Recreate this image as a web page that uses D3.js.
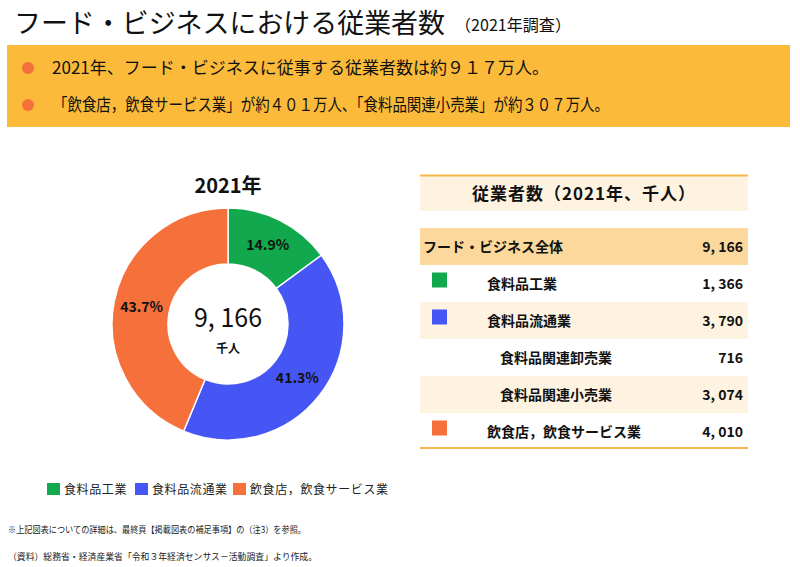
<!DOCTYPE html>
<html><head><meta charset="utf-8">
<script src="https://cdn.jsdelivr.net/npm/d3@7"></script>
<style>
body{margin:0;background:#fff;}
text{font-family:"Noto Sans CJK JP","Noto Sans",sans-serif;}
</style></head>
<body><svg id="c" width="800" height="567"></svg>
<script>
const categories = ["食料品工業","食料品流通業","飲食店，飲食サービス業"];
const values = [1366, 3790, 4010];
const colors = ["#12A94E","#4556F5","#F5703A"];
const tableLabels = ["フード・ビジネス全体","食料品工業","食料品流通業","食料品関連卸売業","食料品関連小売業","飲食店，飲食サービス業"];
const tableValues = [9166, 1366, 3790, 716, 3074, 4010];
const tableLevels = [0, 1, 1, 2, 2, 1];
const tableColorIdx = [null, 0, 1, null, null, 2];
const bullets = ["2021年、フード・ビジネスに従事する従業者数は約９１７万人。",
                 "「飲食店，飲食サービス業」が約４０１万人、「食料品関連小売業」が約３０７万人。"];

const svg = d3.select("#c");
const total = d3.sum(values);
const fmt = d3.format(",");
const pct = d3.format(".1%");

// Title
svg.append("text").attr("x",14).attr("y",33).attr("font-size",27)
  .attr("textLength",431).attr("lengthAdjust","spacingAndGlyphs")
  .attr("fill","#111").text("フード・ビジネスにおける従業者数");
svg.append("text").attr("x",455).attr("y",31).attr("font-size",16)
  .attr("textLength",116).attr("lengthAdjust","spacingAndGlyphs")
  .attr("fill","#111").text("（2021年調査）");

// Summary box
svg.append("rect").attr("x",7).attr("y",45).attr("width",783).attr("height",82).attr("fill","#FBBA3A");
const bulletY = [68, 105];
const bulletLen = [497, 556];
bullets.forEach((b,i)=>{
  svg.append("circle").attr("cx",28).attr("cy",bulletY[i]).attr("r",6).attr("fill","#F5703A");
  svg.append("text").attr("x", i===0?52:53).attr("y",bulletY[i]+6).attr("font-size",17)
    .attr("textLength",bulletLen[i]).attr("lengthAdjust","spacingAndGlyphs")
    .attr("fill","#111").text(b);
});

// Donut
const cx = 228, cy = 324, rOut = 116, rIn = 60;
const g = svg.append("g").attr("transform",`translate(${cx},${cy})`);
const pie = d3.pie().sort(null).value(d=>d)(values);
const arc = d3.arc().innerRadius(rIn).outerRadius(rOut);
const labelArc = d3.arc().innerRadius(88).outerRadius(88);
g.selectAll("path").data(pie).join("path").attr("d",arc)
  .attr("fill",(d,i)=>colors[i]).attr("stroke","#fff").attr("stroke-width",1.5);
g.selectAll("text.p").data(pie).join("text").attr("class","p")
  .attr("transform",d=>`translate(${labelArc.centroid(d)})`)
  .attr("text-anchor","middle").attr("dy","0.35em")
  .attr("font-size",14).attr("font-weight","bold").attr("fill","#111")
  .text(d=>pct(d.data/total));
svg.append("text").attr("x",cx).attr("y",193).attr("text-anchor","middle")
  .attr("font-size",20).attr("font-weight","bold").attr("fill","#111").text("2021年");
svg.append("text").attr("x",cx-34).attr("y",327).attr("font-size",27)
  .attr("textLength",68).attr("lengthAdjust","spacingAndGlyphs")
  .attr("fill","#111").text(fmt(total).replace(",",", "));
svg.append("text").attr("x",cx).attr("y",353).attr("text-anchor","middle")
  .attr("font-size",12).attr("font-weight","bold").attr("fill","#111").text("千人");

// Legend
const legX = [47, 135, 233];
categories.forEach((c,i)=>{
  svg.append("rect").attr("x",legX[i]).attr("y",483).attr("width",13).attr("height",12).attr("fill",colors[i]);
  svg.append("text").attr("x",legX[i]+17).attr("y",494).attr("font-size",12).attr("fill","#222")
    .attr("letter-spacing","0.6").text(c);
});

// Table
const tx0 = 420, tx1 = 748;
svg.append("rect").attr("x",tx0).attr("y",175).attr("width",tx1-tx0).attr("height",36).attr("fill","#FEF3E1");
svg.append("line").attr("x1",tx0).attr("x2",tx1).attr("y1",175.5).attr("y2",175.5).attr("stroke","#F5B94A").attr("stroke-width",2);
svg.append("text").attr("x",584).attr("y",200).attr("text-anchor","middle").attr("font-size",17)
  .attr("font-weight","bold").attr("fill","#111").attr("letter-spacing","1").text("従業者数（2021年、千人）");

const row = d3.scaleBand().domain(d3.range(tableLabels.length)).range([228,450]);
const rowFill = ["#FDD89C","#FFFFFF","#FEF3E1","#FFFFFF","#FEF3E1","#FFFFFF"];
const rows = svg.selectAll("g.row").data(tableLabels).join("g").attr("class","row")
  .attr("transform",(d,i)=>`translate(0,${row(i)})`);
rows.append("rect").attr("x",tx0).attr("width",tx1-tx0).attr("height",row.bandwidth()).attr("fill",(d,i)=>rowFill[i]);
const labelX = [423, 487, 500];
rows.append("text").attr("x",(d,i)=>labelX[tableLevels[i]]).attr("y",row.bandwidth()/2).attr("dy","0.36em")
  .attr("font-size",14).attr("font-weight","bold").attr("fill","#111").text(d=>d);
rows.append("text").attr("x",743).attr("y",row.bandwidth()/2).attr("dy","0.36em").attr("text-anchor","end")
  .attr("font-size",14).attr("font-weight","bold").attr("fill","#111")
  .text((d,i)=>fmt(tableValues[i]).replace(",",", "));
rows.filter((d,i)=>tableColorIdx[i]!==null).append("rect")
  .attr("x",432).attr("y",(d)=>row.bandwidth()/2-11).attr("width",15).attr("height",15)
  .attr("fill",(d)=>colors[tableColorIdx[tableLabels.indexOf(d)]]);
svg.append("line").attr("x1",tx0).attr("x2",tx1).attr("y1",448).attr("y2",448).attr("stroke","#F5B94A").attr("stroke-width",2);

// Footnotes
svg.append("text").attr("x",8).attr("y",533).attr("font-size",9).attr("fill","#222")
  .attr("textLength",298).attr("lengthAdjust","spacingAndGlyphs")
  .text("※上記図表についての詳細は、最終頁【掲載図表の補足事項】の（注3）を参照。");
svg.append("text").attr("x",8).attr("y",560).attr("font-size",9).attr("fill","#222")
  .attr("textLength",309).attr("lengthAdjust","spacingAndGlyphs")
  .text("（資料）総務省・経済産業省「令和３年経済センサス－活動調査」より作成。");
</script></body></html>
